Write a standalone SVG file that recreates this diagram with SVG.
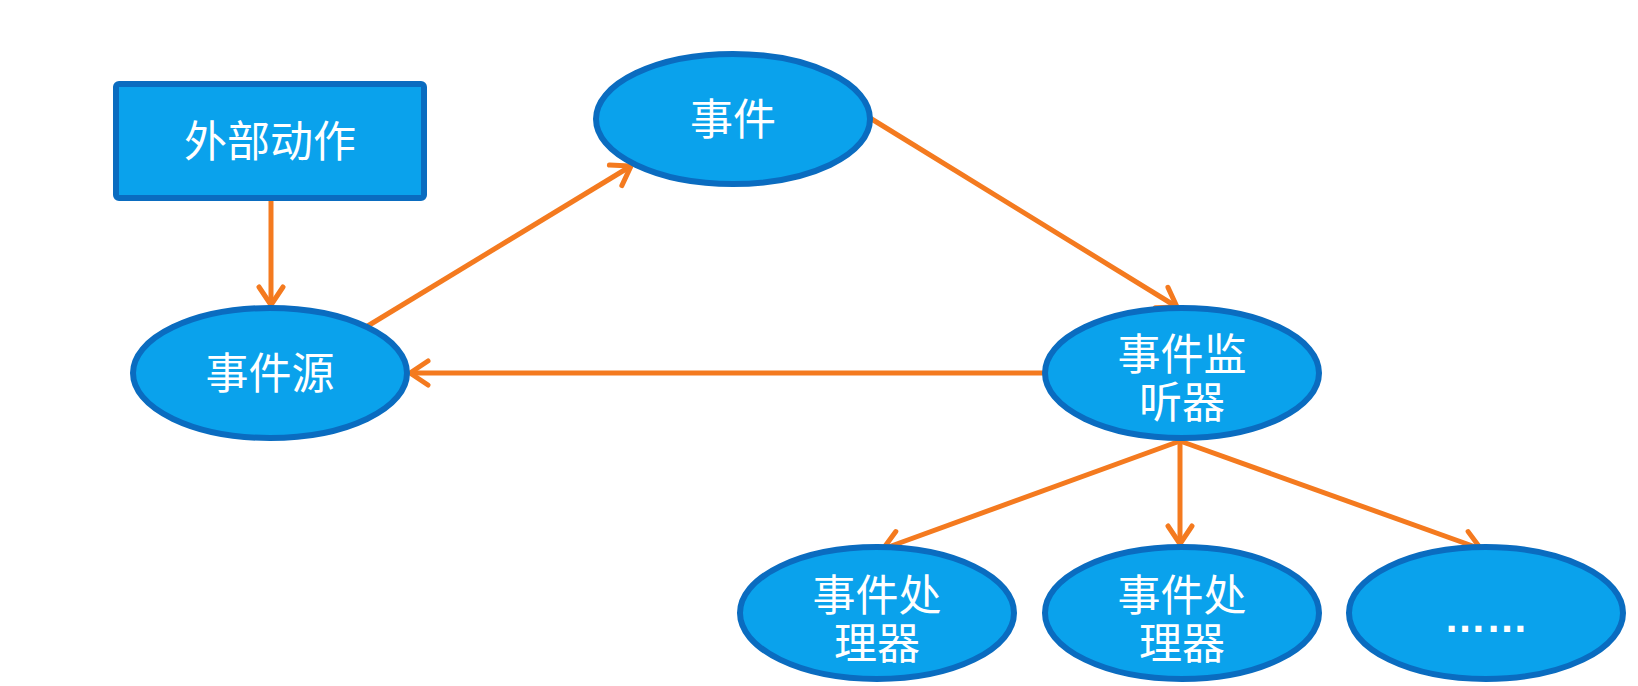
<svg xmlns="http://www.w3.org/2000/svg" width="1638" height="686" viewBox="0 0 1638 686">
<defs>
<style>
.node{fill:#0aa2ec;stroke:#0a6cc0;stroke-width:6}
.lbl{fill:#ffffff;font-family:"Noto Sans CJK SC","Noto Sans",sans-serif;font-size:43px;text-anchor:middle;dominant-baseline:central}
.edge{stroke:#f47a1f;stroke-width:5;fill:none}
</style>
<marker id="arr" viewBox="0 0 28 30" refX="24" refY="15" markerWidth="28" markerHeight="30" markerUnits="userSpaceOnUse" orient="auto">
<polyline points="6,3 24,15 6,27" fill="none" stroke="#f47a1f" stroke-width="5" stroke-linecap="round" stroke-linejoin="miter"/>
</marker>
</defs>
<rect width="1638" height="686" fill="#ffffff"/>
<g id="connectors">
<line class="edge" x1="271" y1="200" x2="271" y2="305" marker-end="url(#arr)"/>
<line class="edge" x1="366" y1="327" x2="631" y2="166" marker-end="url(#arr)"/>
<line class="edge" x1="870" y1="118" x2="1177" y2="307" marker-end="url(#arr)"/>
<line class="edge" x1="1045" y1="373" x2="410" y2="373" marker-end="url(#arr)"/>
<line class="edge" x1="1180" y1="441" x2="883" y2="549" marker-end="url(#arr)"/>
<line class="edge" x1="1180" y1="441" x2="1180" y2="544" marker-end="url(#arr)"/>
<line class="edge" x1="1180" y1="441" x2="1481" y2="549" marker-end="url(#arr)"/>
</g>
<g id="node-action">
<rect class="node" x="116" y="84" width="308" height="114" rx="3"/>
<text class="lbl" x="270" y="138">外部动作</text>
</g>
<g id="node-event">
<ellipse class="node" cx="733" cy="119" rx="137" ry="65"/>
<text class="lbl" x="733" y="116">事件</text>
</g>
<g id="node-source">
<ellipse class="node" cx="270" cy="373" rx="137" ry="65"/>
<text class="lbl" x="270" y="370">事件源</text>
</g>
<g id="node-listener">
<ellipse class="node" cx="1182" cy="373" rx="137" ry="65"/>
<text class="lbl" x="1182" y="351">事件监<tspan x="1182" dy="48">听器</tspan></text>
</g>
<g id="node-handler1">
<ellipse class="node" cx="877" cy="613" rx="137" ry="66"/>
<text class="lbl" x="877" y="592">事件处<tspan x="877" dy="48">理器</tspan></text>
</g>
<g id="node-handler2">
<ellipse class="node" cx="1182" cy="613" rx="137" ry="66"/>
<text class="lbl" x="1182" y="592">事件处<tspan x="1182" dy="48">理器</tspan></text>
</g>
<g id="node-more">
<ellipse class="node" cx="1486" cy="613" rx="137" ry="66"/>
<text x="1486" y="632" fill="#ffffff" font-family="Liberation Sans, sans-serif" font-size="42" font-weight="bold" text-anchor="middle">……</text>
</g>
</svg>
